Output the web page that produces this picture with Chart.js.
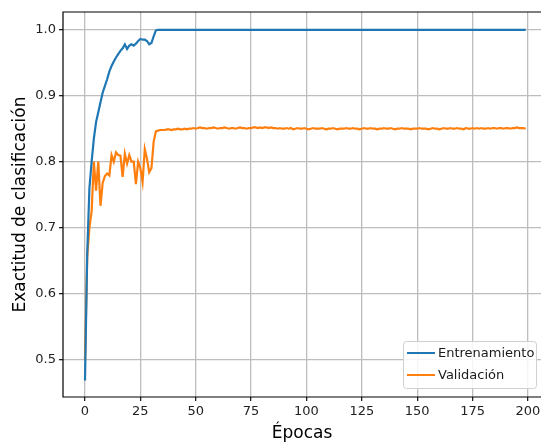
<!DOCTYPE html>
<html>
<head>
<meta charset="utf-8">
<script src="https://cdn.jsdelivr.net/npm/chart.js@4/dist/chart.umd.min.js"></script>
<style>
  html, body { margin: 0; padding: 0; background: #fff; }
  #wrap { width: 541px; height: 444px; }
</style>
</head>
<body>
<div id="wrap"><canvas id="grafico"></canvas></div>
<script>
// Datos
const etiquetas = ['Entrenamiento', 'Validación'];
const colores = ['#1f77b4', '#ff7f0e'];
const ticksX = [0, 25, 50, 75, 100, 125, 150, 175, 200];
const ticksY = [0.5, 0.6, 0.7, 0.8, 0.9, 1.0];

const entrenamiento = [
  0.468, 0.66, 0.76, 0.80, 0.835, 0.86, 0.875, 0.89, 0.905, 0.915,
  0.925, 0.937, 0.945, 0.952, 0.958, 0.963, 0.968, 0.972, 0.978, 0.971,
  0.976, 0.978, 0.976, 0.979, 0.983, 0.986, 0.985, 0.985, 0.983, 0.978,
  0.980, 0.990, 0.999,
  1.0, 1.0, 1.0, 1.0, 1.0, 1.0, 1.0, 1.0, 1.0, 1.0,
  1.0, 1.0, 1.0, 1.0, 1.0, 1.0, 1.0, 1.0, 1.0, 1.0,
  1.0, 1.0, 1.0, 1.0, 1.0, 1.0, 1.0, 1.0, 1.0, 1.0,
  1.0, 1.0, 1.0, 1.0, 1.0, 1.0, 1.0, 1.0, 1.0, 1.0,
  1.0, 1.0, 1.0, 1.0, 1.0, 1.0, 1.0, 1.0, 1.0, 1.0,
  1.0, 1.0, 1.0, 1.0, 1.0, 1.0, 1.0, 1.0, 1.0, 1.0,
  1.0, 1.0, 1.0, 1.0, 1.0, 1.0, 1.0, 1.0, 1.0, 1.0,
  1.0, 1.0, 1.0, 1.0, 1.0, 1.0, 1.0, 1.0, 1.0, 1.0,
  1.0, 1.0, 1.0, 1.0, 1.0, 1.0, 1.0, 1.0, 1.0, 1.0,
  1.0, 1.0, 1.0, 1.0, 1.0, 1.0, 1.0, 1.0, 1.0, 1.0,
  1.0, 1.0, 1.0, 1.0, 1.0, 1.0, 1.0, 1.0, 1.0, 1.0,
  1.0, 1.0, 1.0, 1.0, 1.0, 1.0, 1.0, 1.0, 1.0, 1.0,
  1.0, 1.0, 1.0, 1.0, 1.0, 1.0, 1.0, 1.0, 1.0, 1.0,
  1.0, 1.0, 1.0, 1.0, 1.0, 1.0, 1.0, 1.0, 1.0, 1.0,
  1.0, 1.0, 1.0, 1.0, 1.0, 1.0, 1.0, 1.0, 1.0, 1.0,
  1.0, 1.0, 1.0, 1.0, 1.0, 1.0, 1.0, 1.0, 1.0, 1.0,
  1.0, 1.0, 1.0, 1.0, 1.0, 1.0, 1.0
];

const validacion = [
  0.50, 0.655, 0.70, 0.725, 0.80, 0.756, 0.80, 0.733, 0.768, 0.778,
  0.782, 0.779, 0.81, 0.80, 0.814, 0.81, 0.809, 0.777, 0.812, 0.797,
  0.81, 0.80, 0.80, 0.766, 0.80, 0.79, 0.769, 0.819, 0.804, 0.784,
  0.79, 0.83, 0.846, 0.847, 0.848, 0.848,
  0.848, 0.849, 0.849, 0.848, 0.849, 0.849, 0.850, 0.849, 0.849, 0.850,
  0.849, 0.850, 0.850, 0.851, 0.850, 0.851, 0.852, 0.851, 0.851, 0.850,
  0.851, 0.851, 0.852, 0.851, 0.850, 0.851, 0.851, 0.852, 0.851, 0.850,
  0.851, 0.851, 0.850, 0.851, 0.852, 0.851, 0.851, 0.850, 0.851, 0.851,
  0.852, 0.852, 0.851, 0.852, 0.851, 0.852, 0.852, 0.851, 0.852, 0.851,
  0.851, 0.850, 0.851, 0.850, 0.850, 0.851, 0.850, 0.851, 0.849, 0.850,
  0.851, 0.850, 0.850, 0.851, 0.850, 0.849, 0.850, 0.851, 0.850, 0.850,
  0.850, 0.851, 0.850, 0.849, 0.850, 0.850, 0.851, 0.850, 0.849, 0.850,
  0.850, 0.850, 0.851, 0.850, 0.850, 0.851, 0.850, 0.850, 0.849, 0.850,
  0.851, 0.850, 0.850, 0.851, 0.850, 0.850, 0.849, 0.850, 0.850, 0.851,
  0.850, 0.850, 0.851, 0.850, 0.849, 0.850, 0.850, 0.851, 0.850, 0.850,
  0.850, 0.849, 0.850, 0.850, 0.850, 0.851, 0.850, 0.850, 0.850, 0.849,
  0.850, 0.851, 0.850, 0.850, 0.849, 0.850, 0.851, 0.850, 0.850, 0.851,
  0.850, 0.850, 0.851, 0.850, 0.850, 0.849, 0.851, 0.850, 0.850, 0.851,
  0.850, 0.851, 0.850, 0.851, 0.850, 0.850, 0.851, 0.850, 0.851, 0.851,
  0.850, 0.851, 0.851, 0.850, 0.851, 0.851, 0.850, 0.851, 0.851, 0.852,
  0.851, 0.851, 0.851, 0.850
];

const fuente = 'DejaVu Sans';

// Marco (izquierda, arriba, abajo) y leyenda dentro del área, estilo matplotlib
const marcoYLeyenda = {
  id: 'marcoYLeyenda',
  afterDraw(chart) {
    const ctx = chart.ctx;
    const a = chart.chartArea;
    ctx.save();
    ctx.strokeStyle = '#000';
    ctx.lineWidth = 1.2;
    ctx.beginPath();
    ctx.moveTo(a.right + 5, a.top);
    ctx.lineTo(a.left, a.top);
    ctx.lineTo(a.left, a.bottom);
    ctx.lineTo(a.right + 5, a.bottom);
    ctx.stroke();

    // leyenda
    const x = 403, y = 341, w = 133, h = 47;
    ctx.fillStyle = 'rgba(255,255,255,0.85)';
    ctx.strokeStyle = '#d0d0d0';
    ctx.lineWidth = 1;
    ctx.beginPath();
    ctx.roundRect(x + 0.5, y + 0.5, w, h, 3);
    ctx.fill();
    ctx.stroke();
    ctx.font = '13px "' + fuente + '"';
    ctx.textBaseline = 'middle';
    chart.data.datasets.forEach((ds, i) => {
      const fy = y + 12 + i * 22;
      ctx.strokeStyle = ds.borderColor;
      ctx.lineWidth = 2;
      ctx.beginPath();
      ctx.moveTo(x + 4, fy);
      ctx.lineTo(x + 32, fy);
      ctx.stroke();
      ctx.fillStyle = '#1a1a1a';
      ctx.fillText(ds.label, x + 35, fy + 1);
    });
    ctx.restore();
  }
};

const ctx = document.getElementById('grafico').getContext('2d');
new Chart(ctx, {
  type: 'line',
  data: {
    datasets: [
      {
        label: etiquetas[0],
        data: entrenamiento.map((v, i) => ({ x: i, y: v })),
        borderColor: colores[0],
        borderWidth: 2.2,
        pointRadius: 0,
        tension: 0
      },
      {
        label: etiquetas[1],
        data: validacion.map((v, i) => ({ x: i, y: v })),
        borderColor: colores[1],
        borderWidth: 2.2,
        pointRadius: 0,
        tension: 0
      }
    ]
  },
  options: {
    responsive: true,
    maintainAspectRatio: false,
    animation: false,
    layout: { padding: { top: 12, right: 0, bottom: 0, left: 0 } },
    plugins: {
      legend: { display: false },
      tooltip: { enabled: false }
    },
    scales: {
      x: {
        type: 'linear',
        min: -9.93,
        max: 205.9,
        afterBuildTicks: s => { s.ticks = ticksX.map(v => ({ value: v })); },
        afterFit: s => { s.height = 47; s.paddingRight = 0; s.paddingLeft = 0; },
        grid: { color: '#bdbdbd', lineWidth: 1.3, tickColor: '#222', tickLength: 4 },
        border: { display: false },
        ticks: { color: '#222', font: { family: fuente, size: 13 }, padding: 3, maxRotation: 0 },
        title: { display: true, text: 'Épocas', color: '#000', font: { family: fuente, size: 17 }, padding: { top: 0, bottom: 0 } }
      },
      y: {
        type: 'linear',
        min: 0.443,
        max: 1.027,
        afterBuildTicks: s => { s.ticks = ticksY.map(v => ({ value: v })); },
        afterFit: s => { s.width = 63; },
        grid: { color: '#bdbdbd', lineWidth: 1.3, tickColor: '#222', tickLength: 4 },
        border: { display: false },
        ticks: { color: '#222', font: { family: fuente, size: 13 }, padding: 3, callback: v => v.toFixed(1) },
        title: { display: true, text: 'Exactitud de clasificación', color: '#000', font: { family: fuente, size: 17 }, padding: { top: 10, bottom: 0 } }
      }
    }
  },
  plugins: [marcoYLeyenda]
});
</script>
</body>
</html>
